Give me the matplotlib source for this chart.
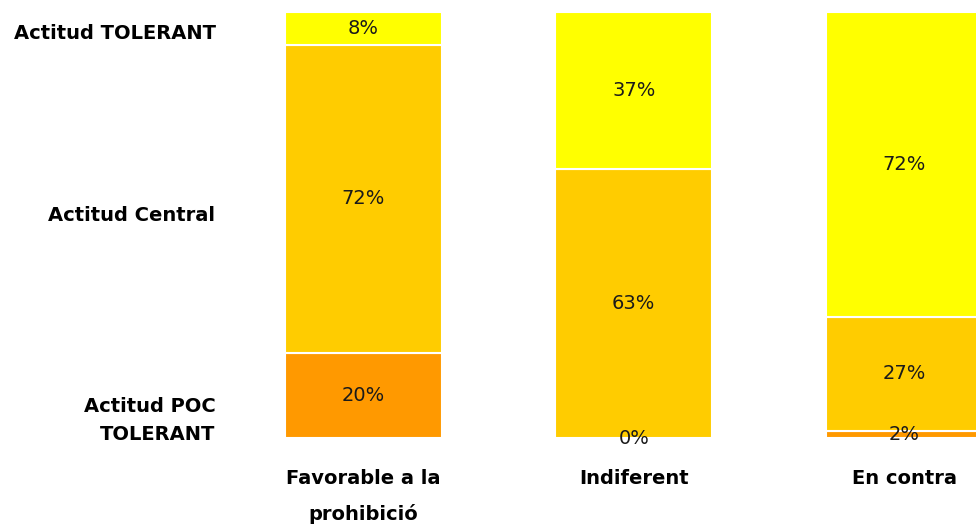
import matplotlib
matplotlib.use("Agg")
import matplotlib.pyplot as plt
import numpy as np

categories = ["Favorable a la\nprohibició", "Indiferent", "En contra"]
poc_tolerant = [20.0, 0.0, 1.7]
central = [72.3, 63.1, 26.7]
tolerant = [7.7, 36.9, 71.6]
series_names = ["Actitud POC TOLERANT", "Actitud Central", "Actitud TOLERANT"]
ytick_labels = ["Actitud POC\nTOLERANT", "Actitud Central", "Actitud TOLERANT"]
ytick_pos = [5.6, 52.6, 95.4]

colors = ["#FF9900", "#FFCC00", "#FFFF00"]

plt.rcParams['font.family'] = ['DejaVu Sans']

fig = plt.figure(figsize=(9.76, 5.26), dpi=100)
ax = fig.add_axes([228/976, 88/526, 811.5/976, 426/526])

x = np.arange(len(categories))
width = 0.58
bottom = np.zeros(len(categories))
for vals, col in zip([poc_tolerant, central, tolerant], colors):
    vals = np.array(vals)
    ax.bar(x, vals, width, bottom=bottom, color=col, edgecolor="white", linewidth=1.5)
    for xi, b, v in zip(x, bottom, vals):
        ax.text(xi, b + v / 2, f"{round(v):.0f}%", ha="center", va="center",
                fontsize=14, color="#1a1a1a")
    bottom += vals

ax.set_xlim(-0.5, 2.5)
ax.set_ylim(0, 100)
ax.set_xticks(x)
ax.set_xticklabels(categories, fontsize=14, fontweight="bold", linespacing=2.0)
ax.set_yticks(ytick_pos)
ax.set_yticklabels(ytick_labels, fontsize=14, fontweight="bold", linespacing=1.6)
ax.tick_params(axis="x", length=0, pad=22)
ax.tick_params(axis="y", length=0, pad=9)
for sp in ax.spines.values():
    sp.set_visible(False)

fig.savefig("out.png", dpi=100)
